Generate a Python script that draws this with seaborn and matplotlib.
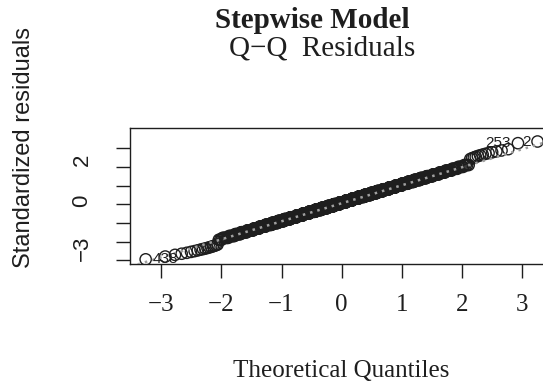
import numpy as np
import pandas as pd
import matplotlib
matplotlib.use("Agg")
import matplotlib.pyplot as plt
from matplotlib.transforms import ScaledTranslation
import seaborn as sns
from statistics import NormalDist

# Standardized residuals of the stepwise model
lower_tail = [-2.95, -2.80, -2.71, -2.65, -2.60, -2.55, -2.51, -2.47, -2.43,
              -2.40, -2.37, -2.34, -2.31, -2.28, -2.25, -2.22, -2.19, -2.16]
# central residuals, one decimal, with how many observations share each value
body_values = [-1.9, -1.8, -1.7, -1.6, -1.5, -1.4, -1.3, -1.2, -1.1, -1.0,
               -0.9, -0.8, -0.7, -0.6, -0.5, -0.4, -0.3, -0.2, -0.1, 0.0,
               0.1, 0.2, 0.3, 0.4, 0.5, 0.6, 0.7, 0.8, 0.9, 1.0,
               1.1, 1.2, 1.3, 1.4, 1.5, 1.6, 1.7, 1.8, 1.9, 2.0, 2.1]
body_counts = [3, 6, 7, 8, 10, 12, 13, 15, 18, 20,
               22, 25, 27, 29, 31, 33, 34, 36, 36, 36,
               37, 36, 36, 35, 34, 32, 30, 28, 26, 24,
               21, 19, 17, 15, 13, 11, 9, 8, 6, 5, 4]
upper_tail = [2.42, 2.46, 2.50, 2.54, 2.58, 2.62, 2.66, 2.70, 2.74, 2.78,
              2.83, 2.88, 2.95, 3.27, 3.36]

# observation ids printed beside the most extreme residuals (sorted rank -> id)
id_ranks = [0, -2, -1]
id_labels = ["438", "253", "2"]

x_ticks = [-3, -2, -1, 0, 1, 2, 3]
y_ticks = [-3, -2, -1, 0, 1, 2, 3]
y_tick_labels = ["\u22123", "", "", "0", "", "2", ""]

title = "Stepwise Model"
subtitle = "Q\u2212Q  Residuals"
x_label = "Theoretical Quantiles"
y_label = "Standardized residuals"

# normal scores for the sorted residuals
resid = np.sort(np.concatenate([lower_tail,
                                np.repeat(body_values, body_counts),
                                upper_tail]))
n = resid.size
nd = NormalDist()
theo = np.array([nd.inv_cdf((i + 0.5) / n) for i in range(n)])
df = pd.DataFrame({"theoretical": theo, "residual": resid})

sns.set_theme(style="white")
SERIF = ["Liberation Serif", "DejaVu Serif"]
SANS = ["Liberation Sans", "DejaVu Sans"]
plt.rcParams["font.family"] = SANS
INK = "#1e1e1e"

W, H = 543, 385
fig = plt.figure(figsize=(W / 100, H / 100), dpi=100)
fig.patch.set_facecolor("white")
ax = fig.add_axes([130 / W, 1 - 264.4 / H, 423.2 / W, 136.8 / H])
ax.set_facecolor("white")

sns.scatterplot(data=df, x="theoretical", y="residual", ax=ax,
                marker="o", s=66, facecolor="none", edgecolor=INK,
                linewidth=1.0, zorder=2, legend=False)

# reference line through the quartiles
qt = [nd.inv_cdf(0.25), nd.inv_cdf(0.75)]
qr = np.quantile(resid, [0.25, 0.75])
slope = (qr[1] - qr[0]) / (qt[1] - qt[0])
ax.axline((qt[0], qr[0]), slope=slope, color="#a0a0a0",
          linestyle=(0, (1, 2)), linewidth=1.8, zorder=3)

# axis ranges: data range padded by 4%, with headroom for the id labels
x_lo, x_hi = theo.min(), theo.max()
dx = 0.04 * (x_hi - x_lo)
ax.set_xlim(x_lo - dx, x_hi + dx)
y_lo, y_hi = resid.min(), resid.max()
y_hi = y_hi + 0.075 * (y_hi - y_lo)
dy = 0.04 * (y_hi - y_lo)
ax.set_ylim(y_lo - dy, y_hi + dy)

# id labels beside the extreme points
mid = (x_lo + x_hi) / 2
for rank, lab in zip(id_ranks, id_labels):
    px, py = theo[rank], resid[rank]
    right = px > mid
    ax.annotate(lab, xy=(px, py), xytext=(-5 if right else 5, 0),
                textcoords="offset points", ha="right" if right else "left",
                va="center", fontsize=11, color=INK, family=SANS,
                annotation_clip=False, zorder=4)

ax.set_xticks(x_ticks)
ax.set_yticks(y_ticks)
ax.set_yticklabels(y_tick_labels)
ax.tick_params(axis="both", direction="out", length=10, width=1.0,
               color=INK, labelcolor=INK, left=True, bottom=True)
ax.tick_params(axis="x", labelsize=18, pad=11)
ax.tick_params(axis="y", labelsize=16, pad=17)
for t in ax.get_xticklabels():
    t.set_fontfamily(SERIF)
shifts = {"\u22123": 12, "0": 3.6, "2": 6.7}
for t in ax.get_yticklabels():
    t.set_rotation(90)
    t.set_va("center")
    s = shifts.get(t.get_text(), 0)
    t.set_transform(t.get_transform() + ScaledTranslation(0, s / 100, fig.dpi_scale_trans))

for sp in ax.spines.values():
    sp.set_visible(True)
    sp.set_color(INK)
    sp.set_linewidth(1.0)

ax.set_xlabel(x_label, fontsize=18, family=SERIF, color=INK, labelpad=32)
ax.set_ylabel("")
fig.text(24 / W, 1 - 147.5 / H, y_label, rotation=90, ha="center", va="center",
         fontsize=17, family=SANS, color=INK)

fig.text(312 / W, 1 - 28 / H, title, ha="center", va="baseline",
         fontsize=21, fontweight="bold", family=SERIF, color=INK)
fig.text(322 / W, 1 - 55 / H, subtitle, ha="center", va="baseline",
         fontsize=21, family=SERIF, color=INK)

fig.savefig("out.png", dpi=100, facecolor="white")
